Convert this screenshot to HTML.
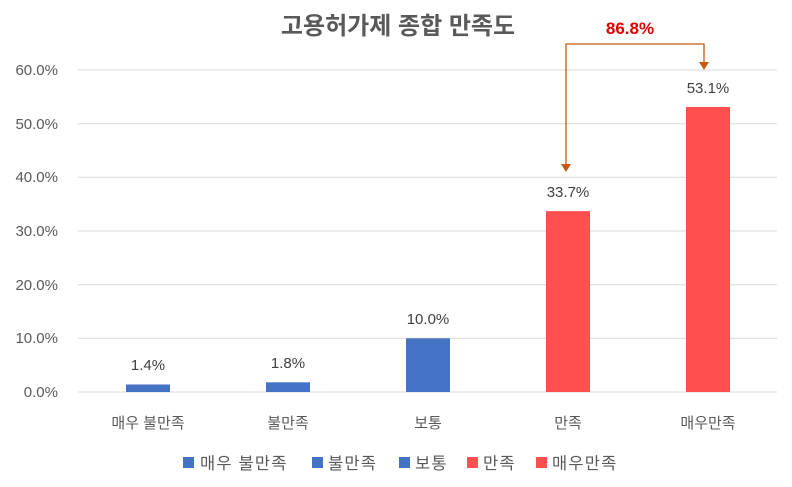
<!DOCTYPE html>
<html><head><meta charset="utf-8"><style>
body{margin:0;background:#fff}
text{font-family:"Liberation Sans","Noto Sans CJK KR",sans-serif}
</style></head><body>
<svg width="792" height="482" viewBox="0 0 792 482">
<rect width="792" height="482" fill="#fff"/>
<text x="398" y="34" text-anchor="middle" font-size="24" font-weight="bold" fill="#595959">고용허가제 종합 만족도</text>
<g stroke="#d9d9d9" stroke-width="1">
<line x1="78" x2="777" y1="392" y2="392"/>
<line x1="78" x2="777" y1="338.3" y2="338.3"/>
<line x1="78" x2="777" y1="284.7" y2="284.7"/>
<line x1="78" x2="777" y1="231" y2="231"/>
<line x1="78" x2="777" y1="177.3" y2="177.3"/>
<line x1="78" x2="777" y1="123.7" y2="123.7"/>
<line x1="78" x2="777" y1="70" y2="70"/>
</g>
<g font-size="15" fill="#595959" text-anchor="end">
<text x="58" y="397">0.0%</text>
<text x="58" y="343">10.0%</text>
<text x="58" y="290">20.0%</text>
<text x="58" y="236">30.0%</text>
<text x="58" y="182">40.0%</text>
<text x="58" y="129">50.0%</text>
<text x="58" y="75">60.0%</text>
</g>
<rect x="126" y="384.5" width="44" height="7.5" fill="#4472c4"/>
<rect x="266" y="382.3" width="44" height="9.7" fill="#4472c4"/>
<rect x="406" y="338.3" width="44" height="53.7" fill="#4472c4"/>
<rect x="546" y="211.1" width="44" height="180.9" fill="#ff4f4f"/>
<rect x="686" y="107" width="44" height="285" fill="#ff4f4f"/>
<g font-size="15" fill="#404040" text-anchor="middle">
<text x="148" y="370">1.4%</text>
<text x="288" y="368">1.8%</text>
<text x="428" y="324">10.0%</text>
<text x="568" y="197">33.7%</text>
<text x="708" y="93">53.1%</text>
</g>
<g font-size="15" fill="#595959" text-anchor="middle">
<text x="148" y="428">매우 불만족</text>
<text x="288" y="428">불만족</text>
<text x="428" y="428">보통</text>
<text x="568" y="428">만족</text>
<text x="708" y="428">매우만족</text>
</g>
<g stroke="#c55a11" stroke-width="1.3" fill="none">
<polyline points="566,165 566,44 704,44 704,64"/>
</g>
<polygon points="561,164 571,164 566,172" fill="#c55a11"/>
<polygon points="699,62 709,62 704,70" fill="#c55a11"/>
<text x="630" y="34" text-anchor="middle" font-size="17" font-weight="bold" fill="#e00000">86.8%</text>
<g font-size="16.5" fill="#595959" letter-spacing="1.2">
<rect x="183" y="457" width="11" height="11" fill="#4472c4"/><text x="200" y="469">매우 불만족</text>
<rect x="312" y="457" width="11" height="11" fill="#4472c4"/><text x="328" y="469">불만족</text>
<rect x="399" y="457" width="11" height="11" fill="#4472c4"/><text x="415" y="469">보통</text>
<rect x="467" y="457" width="11" height="11" fill="#ff4f4f"/><text x="483" y="469">만족</text>
<rect x="536" y="457" width="11" height="11" fill="#ff4f4f"/><text x="552" y="469">매우만족</text>
</g>
</svg>
</body></html>
